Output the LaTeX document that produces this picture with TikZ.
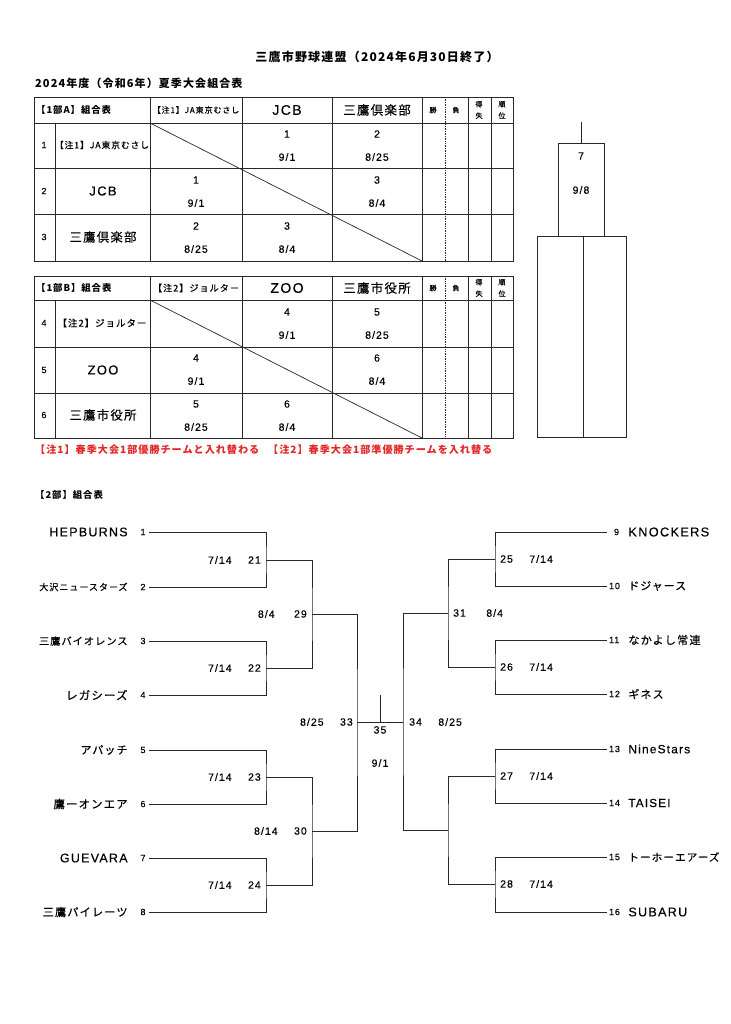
\documentclass[tikz,border=0pt]{standalone}
\usepackage{fontspec}
\setmainfont[LetterSpace=10, FakeBold=0.3]{Liberation Sans}
\newfontfamily\jp[LetterSpace=10, FakeBold=0.3]{Noto Sans CJK JP}
\newfontfamily\jpb[LetterSpace=10]{Noto Sans CJK JP}
\usetikzlibrary{positioning}
\definecolor{ink}{RGB}{40,40,40}
\definecolor{notered}{RGB}{228,38,38}

\tikzset{
  every node/.style={inner sep=0pt, text=black},
  sz/.style={font=\fontsize{#1}{#1}\selectfont},
  jsz/.style={font=\jp\fontsize{#1}{#1}\selectfont},
  jbsz/.style={font=\jpb\bfseries\fontsize{#1}{#1}\selectfont},
  tiny/.style={font=\jp\fontsize{7}{11.5}\selectfont, align=center},
  tline/.style={draw=ink, line width=0.7pt},
  bline/.style={draw=ink, line width=0.8pt},
  tno/.style={sz=9, text width=6pt, align=center, inner xsep=3pt},
  rno/.style={sz=9, text width=10pt, align=right, inner xsep=2pt},
}

\begin{document}
\begin{tikzpicture}[x=1pt, y=-1pt]
\useasboundingbox (0,0) rectangle (730,1024);
\fill[white] (0,0) rectangle (730,1024);

\node[jbsz=12] (title) at (377,57) {三鷹市野球連盟（2024年6月30日終了）};
\node[jbsz=11, anchor=west] (season) at (35,83) {2024年度（令和6年）夏季大会組合表};

% 1部 tables
\foreach \ta/\tb/\tc/\td/\te in {97/123/168/214/261, 276/300/347/393/438} {
  \draw[tline] (34,\ta) rectangle (513,\te);
  \foreach \y in {\tb,\tc,\td} \draw[tline] (34,\y) -- (513,\y);
  \foreach \x in {150,242,332,422,468,491} \draw[tline] (\x,\ta) -- (\x,\te);
  \draw[tline] (55,\tb) -- (55,\te);
  \draw[tline, densely dotted] (445,\ta) -- (445,\te);
  \draw[tline] (150,\tb) -- (422,\te);
}
\foreach \t/\y in {A/110, B/288} {
  \node[tiny] (win\t) at (433,\y) {勝};
  \node[tiny] (loss\t) at (456,\y) {負};
  \node[tiny] (diff\t) at (479,\y) {得\\失};
  \node[tiny] (rank\t) at (502,\y) {順\\位};
}
\node[jbsz=9.4, anchor=west] (hA) at (36,110) {【1部A】組合表};
\node[jsz=8.1] (hA1) at (196,110) {【注1】JA東京むさし};
\node[sz=14] (hA2) at (287,110) {JCB};
\node[jsz=12.5] (hA3) at (377,110) {三鷹倶楽部};
\node[jbsz=9.4, anchor=west] (hB) at (36,288) {【1部B】組合表};
\node[jsz=9.2] (hB1) at (196,288) {【注2】ジョルター};
\node[sz=14] (hB2) at (287,288) {ZOO};
\node[jsz=12.5] (hB3) at (377,288) {三鷹市役所};

\foreach \i/\y in {1/145, 2/191, 3/237, 4/323, 5/370, 6/415}
  \node[sz=9] (row\i) at (44,\y) {\i};
\node[jsz=8.8] (name1) at (102,145) {【注1】JA東京むさし};
\node[sz=13] (name2) at (103,191) {JCB};
\node[jsz=12.4] (name3) at (103,237) {三鷹倶楽部};
\node[jsz=9.5] (name4) at (102,323) {【注2】ジョルター};
\node[sz=13] (name5) at (103,370) {ZOO};
\node[jsz=12.4] (name6) at (103,415) {三鷹市役所};

\foreach \x/\y/\g/\m/\d in {287/134/1/9/1, 377/134/2/8/25, 196/180/1/9/1,
    377/180/3/8/4, 196/226/2/8/25, 287/226/3/8/4, 287/312/4/9/1, 377/312/5/8/25,
    196/358/4/9/1, 377/358/6/8/4, 196/404/5/8/25, 287/404/6/8/4} {
  \node[sz=10.5] (g\x-\y) at (\x,\y) {\g};
  \node[sz=10.5] (d\x-\y) at (\x,\y+23) {\m/\d};
}

\node[jbsz=10.1, text=notered, anchor=west] (note1) at (35,450) {【注1】春季大会1部優勝チームと入れ替わる};
\node[jbsz=10.1, text=notered, anchor=west] (note2) at (268,450) {【注2】春季大会1部準優勝チームを入れ替る};

% final
\node[tline, minimum width=46pt, minimum height=93pt] (final) at (581,189.5) {};
\coordinate (fintop) at (581,122);
\draw[tline] (final.north) -- (fintop);
\node[sz=10.5] (g7) at (581,156) {7};
\node[sz=10.5] (d7) at (581,190) {9/8};
\node[tline, minimum width=89pt, minimum height=201pt] (finbase) at (581.5,336.5) {};
\draw[tline] (583,236) -- (583,437);

% 2部
\node[jbsz=9.4, anchor=west] (div2) at (35,495) {【2部】組合表};

\foreach \i/\y/\s/\t in {1/532/12.5/HEPBURNS, 2/587/9.1/{\jp 大沢ニュースターズ},
    3/641/10.2/{\jp 三鷹バイオレンス}, 4/695/11.5/{\jp レガシーズ}, 5/750/11/{\jp アパッチ},
    6/804/11.4/{\jp 鷹ーオンエア}, 7/858/12.5/GUEVARA, 8/912/11.2/{\jp 三鷹パイレーツ}} {
  \node[tno] (n\i) at (143,\y) {\i};
  \node[sz=\s, left=9pt of n\i] (t\i) {\t};
}
\foreach \i/\y/\s/\t in {9/532/12.8/KNOCKERS, 10/586/10.9/{\jp ドジャース},
    11/640/11.2/{\jp なかよし常連}, 12/694/11/{\jp ギネス}, 13/749/11.9/NineStars,
    14/803/11.7/TAISEI, 15/857/10.6/{\jp トーホーエアーズ}, 16/912/12.6/SUBARU} {
  \node[rno] (n\i) at (614,\y) {\i};
  \node[sz=\s, right=7pt of n\i] (t\i) {\t};
}

\coordinate (m21) at (266,560);
\coordinate (m22) at (266,668);
\coordinate (m23) at (266,777);
\coordinate (m24) at (266,885);
\coordinate (m29) at (312,614);
\coordinate (m30) at (312,831);
\coordinate (m33) at (357,722);
\coordinate (m25) at (495,559);
\coordinate (m26) at (495,667);
\coordinate (m27) at (495,776);
\coordinate (m28) at (495,884);
\coordinate (m31) at (448,613);
\coordinate (m32) at (448,830);
\coordinate (m34) at (403,722);
\coordinate (m35) at (380,722);
\coordinate (top35) at (380,695);

\foreach \a/\b/\m in {1/2/21, 3/4/22, 5/6/23, 7/8/24}
  \draw[bline] (n\a.east) -| (m\m) |- (n\b.east);
\foreach \a/\b/\m in {9/10/25, 11/12/26, 13/14/27, 15/16/28}
  \draw[bline] (n\a.west) -| (m\m) |- (n\b.west);
\draw[bline] (m21) -| (m29) |- (m22);
\draw[bline] (m23) -| (m30) |- (m24);
\draw[bline] (m29) -| (m33) |- (m30);
\draw[bline] (m25) -| (m31) |- (m26);
\draw[bline] (m27) -| (m32) |- (m28);
\draw[bline] (m31) -| (m34) |- (m32);
\draw[bline] (m33) -- (m34);
\draw[bline] (m35) -- (top35);

\foreach \m/\p/\q/\gap in {21/7/14/16, 22/7/14/16, 23/7/14/16, 24/7/14/16,
    29/8/4/19, 30/8/14/16} {
  \node[sz=10.5, left=5pt of m\m] (g\m) {\m};
  \node[sz=10.5, left=\gap pt of g\m] (d\m) {\p/\q};
}
\node[sz=10.5, left=4pt of m33] (g33) {33};
\node[sz=10.5, left=16pt of g33] (d33) {8/25};
\foreach \m/\p/\q/\gap in {25/7/14/16, 26/7/14/16, 27/7/14/16, 28/7/14/16,
    31/8/4/20} {
  \node[sz=10.5, right=5pt of m\m] (g\m) {\m};
  \node[sz=10.5, right=\gap pt of g\m] (d\m) {\p/\q};
}
\node[sz=10.5, right=6pt of m34] (g34) {34};
\node[sz=10.5, right=16pt of g34] (d34) {8/25};
\node[sz=10.5, below=4pt of m35] (g35) {35};
\node[sz=10.5] (d35) at (380,763) {9/1};
\end{tikzpicture}
\end{document}
